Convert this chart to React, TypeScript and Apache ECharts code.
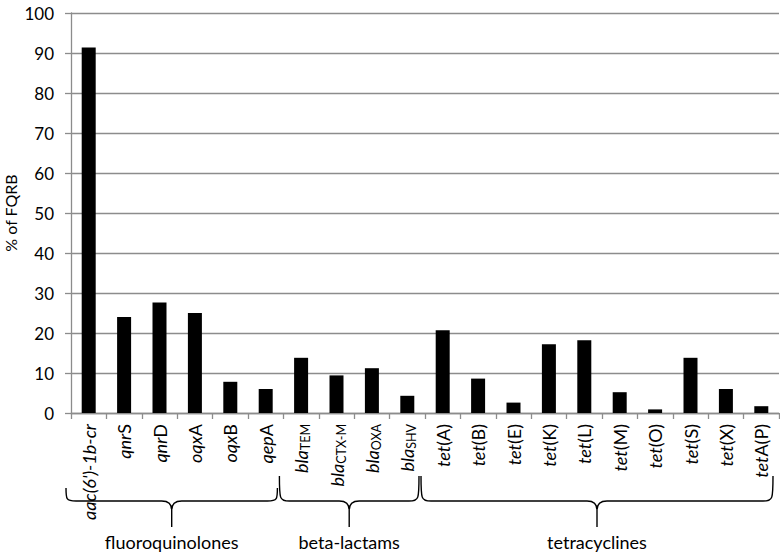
import React, { useEffect, useRef } from "react";
import * as echarts from "echarts";

// Gene labels as rich-text (i = italic, n = normal, s = subscript)
const categories = [
  "{i|aac(6')-1b-cr}",
  "{i|qnr}{n|S}",
  "{i|qnr}{n|D}",
  "{i|oqx}{n|A}",
  "{i|oqx}{n|B}",
  "{i|qep}{n|A}",
  "{i|bla}{s|TEM}",
  "{i|bla}{s|CTX-M}",
  "{i|bla}{s|OXA}",
  "{i|bla}{s|SHV}",
  "{i|tet}{n|(A)}",
  "{i|tet}{n|(B)}",
  "{i|tet}{n|(E)}",
  "{i|tet}{n|(K)}",
  "{i|tet}{n|(L)}",
  "{i|tet}{n|(M)}",
  "{i|tet}{n|(O)}",
  "{i|tet}{n|(S)}",
  "{i|tet}{n|(X)}",
  "{i|tet}{n|A(P)}",
];

const values = [
  91.4, 24.0, 27.6, 25.0, 7.8, 6.0, 13.8, 9.4, 11.2, 4.3, 20.7, 8.6, 2.6, 17.2,
  18.2, 5.2, 0.9, 13.8, 6.0, 1.7,
];

const groupNames = ["fluoroquinolones", "beta-lactams", "tetracyclines"];
const groupStart = [0, 6, 10];
const groupEnd = [5, 9, 19];

const yAxisTitle = "% of FQRB";
const yTicks = { min: 0, max: 100, interval: 10 };

const FONT = "Lato";

export default function App() {
  const ref = useRef<HTMLDivElement>(null);

  useEffect(() => {
    if (!ref.current) return;
    const chart = echarts.init(ref.current, undefined, { renderer: "svg" });

    const gridLeft = 71;
    const gridTop = 13;
    const gridRight = 1;
    const gridBottom = 142;

    chart.setOption({
      animation: false,
      grid: {
        left: gridLeft,
        top: gridTop,
        right: gridRight,
        bottom: gridBottom,
        containLabel: false,
        outerBoundsMode: "none",
      },
      xAxis: {
        type: "category",
        data: categories,
        axisLine: { lineStyle: { color: "#8c8c8c", width: 1.3 } },
        axisTick: {
          show: true,
          alignWithLabel: false,
          length: 6,
          lineStyle: { color: "#8c8c8c", width: 1.3 },
        },
        axisLabel: {
          rotate: 90,
          margin: 11,
          interval: 0,
          formatter: (v: string) => v,
          color: "#000",
          rich: {
            i: {
              fontFamily: FONT,
              fontStyle: "italic",
              fontSize: 18,
              lineHeight: 22,
              color: "#000",
            },
            n: {
              fontFamily: FONT,
              fontSize: 18,
              lineHeight: 22,
              color: "#000",
            },
            s: {
              fontFamily: FONT,
              fontSize: 12.5,
              lineHeight: 11,
              verticalAlign: "bottom",
              color: "#000",
            },
          },
        },
      },
      yAxis: {
        type: "value",
        min: yTicks.min,
        max: yTicks.max,
        interval: yTicks.interval,
        axisLine: { show: true, lineStyle: { color: "#8c8c8c", width: 1.3 } },
        axisTick: {
          show: true,
          length: 6,
          lineStyle: { color: "#8c8c8c", width: 1.3 },
        },
        axisLabel: {
          fontFamily: FONT,
          fontSize: 17,
          color: "#000",
          margin: 17,
        },
        splitLine: { lineStyle: { color: "#8c8c8c", width: 1.3 } },
      },
      series: [
        {
          type: "bar",
          data: values,
          barWidth: 14,
          itemStyle: { color: "#000" },
        },
      ],
    });

    // Braces under the category labels
    const plotW = 780 - gridLeft - gridRight;
    const step = plotW / categories.length;
    const yb = 501;
    const yc = 527;
    const graphics: any[] = [
      {
        type: "text",
        x: 10,
        y: (gridTop + (555 - gridBottom)) / 2,
        rotation: Math.PI / 2,
        style: {
          text: yAxisTitle,
          fontFamily: FONT,
          fontSize: 16,
          fill: "#000",
          align: "center",
          verticalAlign: "middle",
        },
      },
    ];
    groupNames.forEach((name, gi) => {
      const x0 = gridLeft + groupStart[gi] * step - 4 + (gi === 0 ? -1 : 0);
      const x1 = gridLeft + (groupEnd[gi] + 1) * step - 6;
      const xc = (x0 + x1) / 2;
      const yt = gi === 0 ? 488 : 476;
      const d =
        `M ${x0} ${yt} C ${x0} ${yb - 2} ${x0} ${yb} ${x0 + 10} ${yb} ` +
        `L ${xc - 10} ${yb} C ${xc - 3} ${yb} ${xc} ${yb + 3} ${xc} ${yb + 9} ` +
        `L ${xc} ${yc} M ${xc} ${yb + 9} C ${xc} ${yb + 3} ${xc + 3} ${yb} ${xc + 10} ${yb} ` +
        `L ${x1 - 10} ${yb} C ${x1} ${yb} ${x1} ${yb - 2} ${x1} ${yt}`;
      const shapeName = "brace" + gi;
      echarts.graphic.registerShape(shapeName, echarts.graphic.extendPath(d, {}) as any);
      graphics.push({
        type: shapeName,
        x: 0,
        y: 0,
        style: { fill: "none", stroke: "#000", lineWidth: 1.4 },
      });
      graphics.push({
        type: "text",
        x: xc,
        y: 542,
        style: {
          text: name,
          fontFamily: FONT,
          fontSize: 18,
          fill: "#000",
          align: "center",
          verticalAlign: "middle",
        },
      });
    });
    chart.setOption({ graphic: graphics });

    return () => chart.dispose();
  }, []);

  return (
    <div
      ref={ref}
      style={{ position: "absolute", left: 0, top: 0, width: 780, height: 555 }}
    />
  );
}
